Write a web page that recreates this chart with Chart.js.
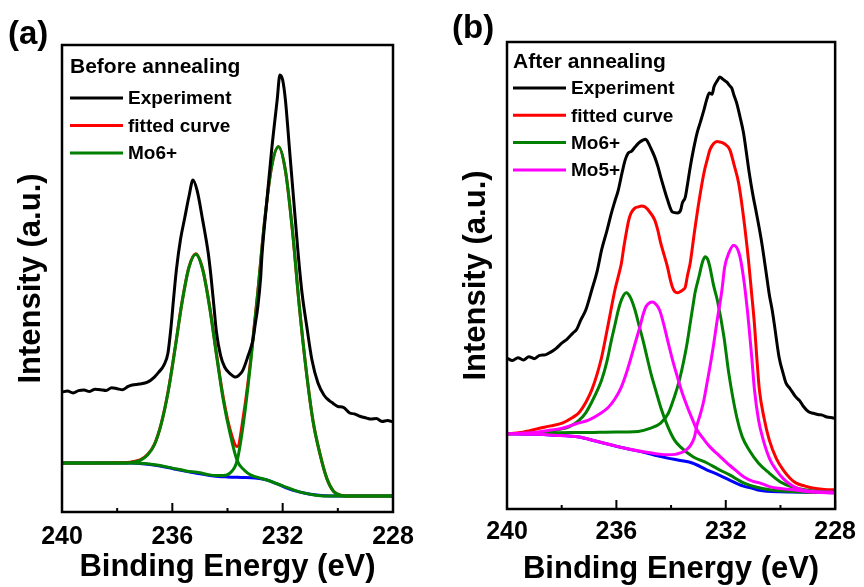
<!DOCTYPE html>
<html>
<head>
<meta charset="utf-8">
<script src="https://cdn.jsdelivr.net/npm/chart.js@4.4.1/dist/chart.umd.min.js"></script>
<style>
  html, body { margin: 0; padding: 0; background: #fff; }
  #wrap { position: relative; width: 864px; height: 587px; overflow: hidden; font-family: "Liberation Sans", Arial, sans-serif; }
  canvas { position: absolute; top: 0; }
  #cA { left: 0; }
  #cB { left: 432px; }
  .tag { position: absolute; font-weight: bold; font-size: 33px; line-height: 38px; color: #000; }
</style>
</head>
<body>
<div id="wrap">
  <canvas id="cA" width="432" height="587"></canvas>
  <canvas id="cB" width="432" height="587"></canvas>
  <div class="tag" style="left:8px;top:14px">(a)</div>
  <div class="tag" style="left:452px;top:8px">(b)</div>
</div>
<script>
// x axis ticks (binding energy, eV)
const tickE = [240, 238, 236, 234, 232, 230, 228];
const tickLabels = [240, 236, 232, 228];

// ---------- panel (a) : before annealing ----------
const aExp = [[240.0,25.7],[239.8,25.9],[239.6,25.5],[239.4,26.0],[239.2,26.1],[239.0,25.8],[238.8,26.3],[238.6,26.2],
  [238.4,26.0],[238.2,26.6],[238.0,26.4],[237.8,26.2],[237.6,26.9],[237.45,27.2],[237.2,27.4],[236.9,27.8],[236.65,28.9],
  [236.5,29.9],[236.3,31.5],[236.16,34.0],[236.05,39.5],[235.95,46.0],[235.85,52.0],[235.7,58.5],[235.55,63.0],[235.4,67.5],
  [235.25,71.1],[235.1,68.8],[234.9,62.5],[234.7,55.5],[234.6,50.5],[234.5,44.5],[234.4,38.5],[234.25,33.5],[234.1,31.0],
  [233.9,29.6],[233.7,28.9],[233.55,29.5],[233.44,30.4],[233.25,33.5],[233.08,36.8],[233.0,40.0],
  [232.9,44.0],[232.8,50.0],[232.75,55.0],[232.57,66.8],[232.4,77.5],[232.2,88.2],[232.1,93.6],[232.0,92.5],[231.9,88.2],
  [231.75,77.5],[231.6,66.8],[231.45,56.1],[231.3,47.0],[231.12,39.5],[230.94,32.6],[230.72,27.6],[230.5,25.0],[230.3,23.8],
  [230.18,23.3],[230.0,22.6],[229.8,22.4],[229.57,21.2],[229.4,21.0],[229.2,20.5],[228.95,20.1],[228.8,19.9],[228.6,20.0],
  [228.4,19.4],[228.2,19.6],[228.0,19.3]];
const aFit = [[240,10.5],[237.65,10.6],[237.4,10.8],[237.15,11.2],[236.9,12.3],[236.65,14.5],[236.4,19.0],[236.15,25.9],
  [235.9,35.1],[235.65,44.9],[235.4,52.4],[235.15,55.3],[234.9,52.0],[234.65,44.1],[234.4,33.9],[234.15,24.4],[233.9,17.5],
  [233.65,14.0],[233.4,21.5],[233.15,33.1],[232.9,47.2],[232.65,62.6],[232.4,74.0],[232.15,78.2],[231.9,73.1],[231.65,60.5],
  [231.4,44.3],[231.15,30.5],[230.9,19.5],[230.65,12.5],[230.4,7.2],[230.15,4.4],[229.9,3.6],[229.5,3.4],[228,3.4]];
const aMo6hi = [[240,10.5],[238.5,10.5],[237.65,10.5],[237.4,10.7],[237.15,11.1],[236.9,12.2],[236.65,14.4],[236.4,18.9],
  [236.15,25.8],[235.9,35.0],[235.65,44.8],[235.4,52.3],[235.15,55.2],[234.9,51.9],[234.65,43.9],[234.4,33.6],[234.15,23.9],
  [233.9,16.6],[233.65,11.0],[233.4,9.0],[233.15,7.9],[232.9,7.4],[232.6,6.9],[232.0,5.6],[231.4,4.3],[230.8,3.6],[230.3,3.4],[228,3.4]];
const aMo6lo = [[240,10.5],[237.5,10.5],[237.0,10.4],[236.5,10.0],[236.0,9.4],[235.5,8.8],[235.0,8.4],[234.7,8.0],[234.4,7.8],
  [234.15,7.8],[233.9,8.4],[233.65,11.0],[233.4,20.0],[233.15,32.6],[232.9,47.1],[232.65,62.6],[232.4,74.0],[232.15,78.2],
  [231.9,73.1],[231.65,60.5],[231.4,44.3],[231.15,30.5],[230.9,19.5],[230.65,12.5],[230.4,7.2],[230.15,4.4],[229.9,3.6],[229.5,3.4],[228,3.4]];
const aBg = [[240,10.5],[237.5,10.5],[236.5,9.9],[236,9.3],[235.5,8.7],[235,8.2],[234.5,7.7],[234,7.5],[233.5,7.4],[233,7.3],
  [232.6,6.9],[232.2,6.0],[231.8,5.0],[231.4,4.3],[231.0,3.8],[230.5,3.5],[230,3.4],[228,3.4]];

// ---------- panel (b) : after annealing ----------
const bExp = [[240.0,32.3],[239.8,31.8],[239.6,32.4],[239.4,31.9],[239.2,32.6],[239.0,32.2],[238.8,32.9],[238.6,33.0],
  [238.4,33.6],[238.2,34.4],[238.0,35.5],[237.8,36.4],[237.6,37.6],[237.45,38.5],[237.3,40.5],[237.12,42.6],[236.9,46.9],
  [236.7,51.0],[236.54,55.5],[236.35,59.5],[236.18,63.4],[236.05,66.0],[235.93,68.3],[235.8,71.8],[235.68,74.7],[235.57,76.2],
  [235.45,76.6],[235.32,77.5],[235.18,78.4],[235.03,79.0],[234.93,79.2],[234.85,78.6],[234.72,77.0],[234.6,75.4],[234.48,73.3],
  [234.38,71.1],[234.25,68.5],[234.13,66.2],[233.95,63.6],[233.77,63.4],[233.65,64.0],[233.59,65.5],[233.48,66.8],[233.4,69.5],
  [233.3,73.2],[233.18,77.0],[233.05,80.5],[232.92,83.0],[232.8,85.4],[232.7,87.6],[232.6,89.1],[232.5,88.8],[232.43,90.4],
  [232.3,91.8],[232.22,92.5],[232.1,92.0],[231.96,91.4],[231.85,90.6],[231.78,90.1],[231.7,88.6],[231.6,86.9],[231.48,84.0],
  [231.35,80.5],[231.25,76.5],[231.14,71.9],[231.0,67.0],[230.88,63.4],[230.7,57.6],[230.52,50.5],[230.41,46.0],[230.3,42.5],
  [230.23,39.8],[230.05,32.5],[229.9,29.0],[229.8,27.0],[229.65,25.8],[229.44,24.0],[229.3,23.2],[229.15,21.9],[228.97,20.8],
  [228.8,20.5],[228.6,20.2],[228.47,20.1],[228.3,19.7],[228.07,19.5],[228.0,19.4]];
const bFit = [[240,16.1],[239.5,16.4],[238.81,17.3],[238.4,17.8],[237.98,18.4],[237.6,19.6],[237.37,20.6],[237.1,23.0],
  [236.9,25.5],[236.7,29.0],[236.54,32.5],[236.4,36.5],[236.29,39.8],[236.05,47.0],[235.9,50.5],[235.82,52.5],[235.73,56.0],
  [235.64,59.1],[235.55,61.8],[235.46,63.4],[235.33,64.4],[235.2,64.7],[235.08,64.9],[234.96,64.7],[234.78,63.6],[234.6,61.9],
  [234.49,59.8],[234.38,57.0],[234.25,54.3],[234.13,51.8],[234.04,49.4],[233.95,47.5],[233.86,46.5],[233.77,46.3],[233.65,46.6],
  [233.55,47.0],[233.48,47.5],[233.4,50.0],[233.3,52.7],[233.15,59.1],[232.97,66.2],[232.8,71.9],[232.67,75.0],[232.58,76.9],
  [232.45,78.2],[232.32,78.7],[232.22,78.6],[232.05,78.2],[231.85,76.9],[231.7,73.8],[231.53,69.8],[231.35,62.5],[231.17,53.3],
  [231.06,46.5],[230.95,39.5],[230.86,32.0],[230.77,25.5],[230.6,19.5],[230.41,14.8],[230.15,10.8],[229.9,8.4],[229.65,6.6],
  [229.44,5.6],[229.1,4.9],[228.83,4.5],[228.4,4.2],[228.0,4.1]];
const bMo6hi = [[240,16.1],[239.0,16.3],[238.56,16.5],[238.1,17.0],[237.73,17.6],[237.4,18.8],[237.12,20.6],[236.85,23.5],
  [236.54,27.6],[236.35,31.5],[236.18,36.2],[236.05,39.5],[235.93,42.6],[235.8,45.0],[235.64,46.3],[235.48,45.2],[235.32,42.6],
  [235.18,39.5],[235.03,36.2],[234.88,32.5],[234.74,29.1],[234.55,25.2],[234.38,21.8],[234.13,17.8],[233.88,14.8],[233.66,13.3],
  [233.2,11.2],[232.7,9.9],[232.3,8.6],[231.86,7.3],[231.35,5.6],[230.9,4.7],[230.4,4.1],[229.8,3.8],[229.0,3.6],[228,3.5]];
const bMo6lo = [[240,16.1],[238.5,16.3],[237.0,16.4],[236.0,16.5],[235.57,16.5],[235.2,16.6],[234.8,17.2],[234.38,18.4],
  [234.1,20.5],[233.88,24.0],[233.7,27.5],[233.51,32.5],[233.4,36.0],[233.3,39.8],[233.2,43.5],[233.12,46.4],[232.97,50.0],
  [232.86,52.7],[232.76,54.0],[232.65,53.3],[232.58,51.8],[232.45,48.0],[232.3,44.5],[232.07,37.0],[231.89,29.1],[231.6,19.7],
  [231.4,15.5],[231.14,12.6],[230.8,9.8],[230.41,7.7],[230.0,5.8],[229.55,4.7],[229.0,4.0],[228.5,3.7],[228,3.6]];
const bMo5hi = [[240,16.1],[239.0,16.4],[238.4,16.9],[237.98,17.3],[237.5,18.2],[237.0,19.1],[236.6,20.4],[236.29,21.8],
  [236.05,23.6],[235.82,26.1],[235.64,29.0],[235.46,32.5],[235.3,35.8],[235.14,39.0],[235.03,41.5],[234.92,43.3],[234.8,44.1],
  [234.67,44.3],[234.55,43.8],[234.42,42.6],[234.28,39.8],[234.13,36.2],[233.95,32.0],[233.77,28.3],[233.6,25.0],[233.4,21.8],
  [233.22,19.2],[233.05,16.9],[232.8,14.9],[232.58,13.3],[232.25,11.5],[231.96,9.9],[231.6,8.1],[231.35,6.9],[231.0,5.9],
  [230.77,5.6],[230.4,4.8],[230.16,4.5],[229.55,4.1],[229.0,3.7],[228,3.4]];
const bMo5lo = [[240,16.1],[239.0,16.0],[238.3,15.8],[237.37,15.4],[236.8,14.6],[236.18,13.7],[235.6,12.9],[234.96,12.2],
  [234.5,11.8],[234.13,11.6],[233.85,11.7],[233.66,12.0],[233.48,12.5],[233.3,13.5],[233.15,15.3],[233.05,18.0],[232.92,20.5],
  [232.8,23.3],[232.7,26.5],[232.58,30.4],[232.45,35.0],[232.33,39.8],[232.14,46.9],[232.04,51.8],[231.89,54.8],[231.71,56.5],
  [231.5,54.5],[231.35,49.5],[231.2,42.0],[231.05,32.5],[230.95,25.5],[230.8,19.0],[230.63,14.8],[230.4,10.8],[230.16,8.4],
  [229.9,6.5],[229.55,4.9],[229.2,4.1],[228.6,3.7],[228,3.6]];
const bBg = [[240,16.1],[239.0,16.0],[238.3,15.8],[237.37,15.4],[236.8,14.6],[236.18,13.7],[235.6,12.9],[234.96,12.1],
  [234.5,11.4],[234.13,10.9],[233.66,10.4],[233.2,9.8],[232.7,8.4],[232.3,7.4],[231.86,6.2],[231.35,4.9],[231.0,4.4],
  [230.77,4.0],[230.0,3.7],[228,3.6]];

Chart.defaults.font.family = '"Liberation Sans", Arial, sans-serif';
Chart.defaults.font.weight = 'bold';
Chart.defaults.color = '#000';

const pts = arr => arr.map(p => ({ x: p[0], y: p[1] }));

function line(label, data, color, order) {
  return {
    label: label,
    data: pts(data),
    borderColor: color,
    backgroundColor: color,
    borderWidth: 3,
    pointRadius: 0,
    fill: false,
    cubicInterpolationMode: 'monotone',
    order: order
  };
}

// box round the plot and inward tick marks
const frame = {
  id: 'frame',
  afterDatasetsDraw(chart) {
    const ctx = chart.ctx, a = chart.chartArea, x = chart.scales.x;
    ctx.save();
    ctx.strokeStyle = '#000';
    ctx.lineWidth = 2.5;
    ctx.strokeRect(a.left, a.top, a.right - a.left, a.bottom - a.top);
    ctx.lineWidth = 2;
    x.ticks.forEach(t => {
      const px = x.getPixelForValue(t.value);
      const len = tickLabels.includes(t.value) ? 9 : 4;
      ctx.beginPath();
      ctx.moveTo(px, a.bottom);
      ctx.lineTo(px, a.bottom - len);
      ctx.stroke();
    });
    ctx.restore();
  }
};

// legend in the upper left corner of the plot, with a heading line
const keyBox = {
  id: 'keyBox',
  afterDraw(chart, args, o) {
    const ctx = chart.ctx, a = chart.chartArea;
    ctx.save();
    ctx.fillStyle = '#000';
    ctx.textBaseline = 'middle';
    ctx.font = 'bold 21px "Liberation Sans", Arial, sans-serif';
    ctx.fillText(o.heading, a.left + o.x0, a.top + o.headY);
    ctx.font = 'bold 19px "Liberation Sans", Arial, sans-serif';
    ctx.lineWidth = 3;
    let y = a.top + o.firstY;
    chart.data.datasets.filter(ds => ds.label).forEach(ds => {
      ctx.strokeStyle = ds.borderColor;
      ctx.beginPath();
      ctx.moveTo(a.left + o.x0, y);
      ctx.lineTo(a.left + o.x0 + 53, y);
      ctx.stroke();
      ctx.fillText(ds.label, a.left + o.x0 + 58, y + 1);
      y += o.step;
    });
    ctx.restore();
  }
};

function panel(id, datasets, key, box) {
  new Chart(document.getElementById(id), {
    type: 'line',
    data: { datasets: datasets },
    options: {
      responsive: false,
      animation: false,
      layout: { padding: { left: 0, top: box.top, right: box.right, bottom: 0 } },
      plugins: {
        tooltip: { enabled: false },
        legend: { display: false },
        keyBox: key
      },
      scales: {
        x: {
          type: 'linear', min: 228, max: 240, reverse: true,
          afterBuildTicks: s => { s.ticks = tickE.map(v => ({ value: v })); },
          ticks: {
            autoSkip: false, maxRotation: 0, padding: box.tickPad, color: '#000',
            font: { size: 25, weight: 'bold' },
            callback: v => tickLabels.includes(v) ? String(v) : ''
          },
          grid: { display: false, drawTicks: false },
          border: { display: false },
          title: {
            display: true, text: 'Binding Energy (eV)', color: '#000',
            font: { size: 31, weight: 'bold', lineHeight: 1.1 }, padding: { top: 0, bottom: box.titlePad }
          },
          afterFit: s => { s.height = box.xh; }
        },
        y: {
          min: 0, max: 100,
          ticks: { display: false },
          grid: { display: false, drawTicks: false },
          border: { display: false },
          title: {
            display: true, text: 'Intensity (a.u.)', color: '#000',
            font: { size: 31, weight: 'bold', lineHeight: 1.1 }, padding: { top: box.yTitlePad, bottom: 0 }
          },
          afterFit: s => { s.width = box.yw; }
        }
      }
    },
    plugins: [frame, keyBox]
  });
}

panel('cA', [
  line('Experiment', aExp, '#000000', 0),
  line('fitted curve', aFit, '#ff0000', 3),
  line('Mo6+', aMo6hi, '#007f00', 1),
  line('', aMo6lo, '#007f00', 2),
  line('', aBg, '#0000ff', 4)
], { heading: 'Before annealing', x0: 8, headY: 22, firstY: 53, step: 27.5 },
   { top: 45, right: 39, xh: 75, yw: 62, tickPad: 10, titlePad: 2, yTitlePad: 14 });

panel('cB', [
  line('Experiment', bExp, '#000000', 0),
  line('fitted curve', bFit, '#ff0000', 5),
  line('Mo6+', bMo6hi, '#007f00', 3),
  line('Mo5+', bMo5hi, '#ff00ff', 1),
  line('', bMo6lo, '#007f00', 4),
  line('', bMo5lo, '#ff00ff', 2),
  line('', bBg, '#0000ff', 6)
], { heading: 'After annealing', x0: 6, headY: 20, firstY: 46, step: 27.3 },
   { top: 42, right: 24, xh: 78, yw: 75, tickPad: 8, titlePad: 0, yTitlePad: 27 });
</script>
</body>
</html>
